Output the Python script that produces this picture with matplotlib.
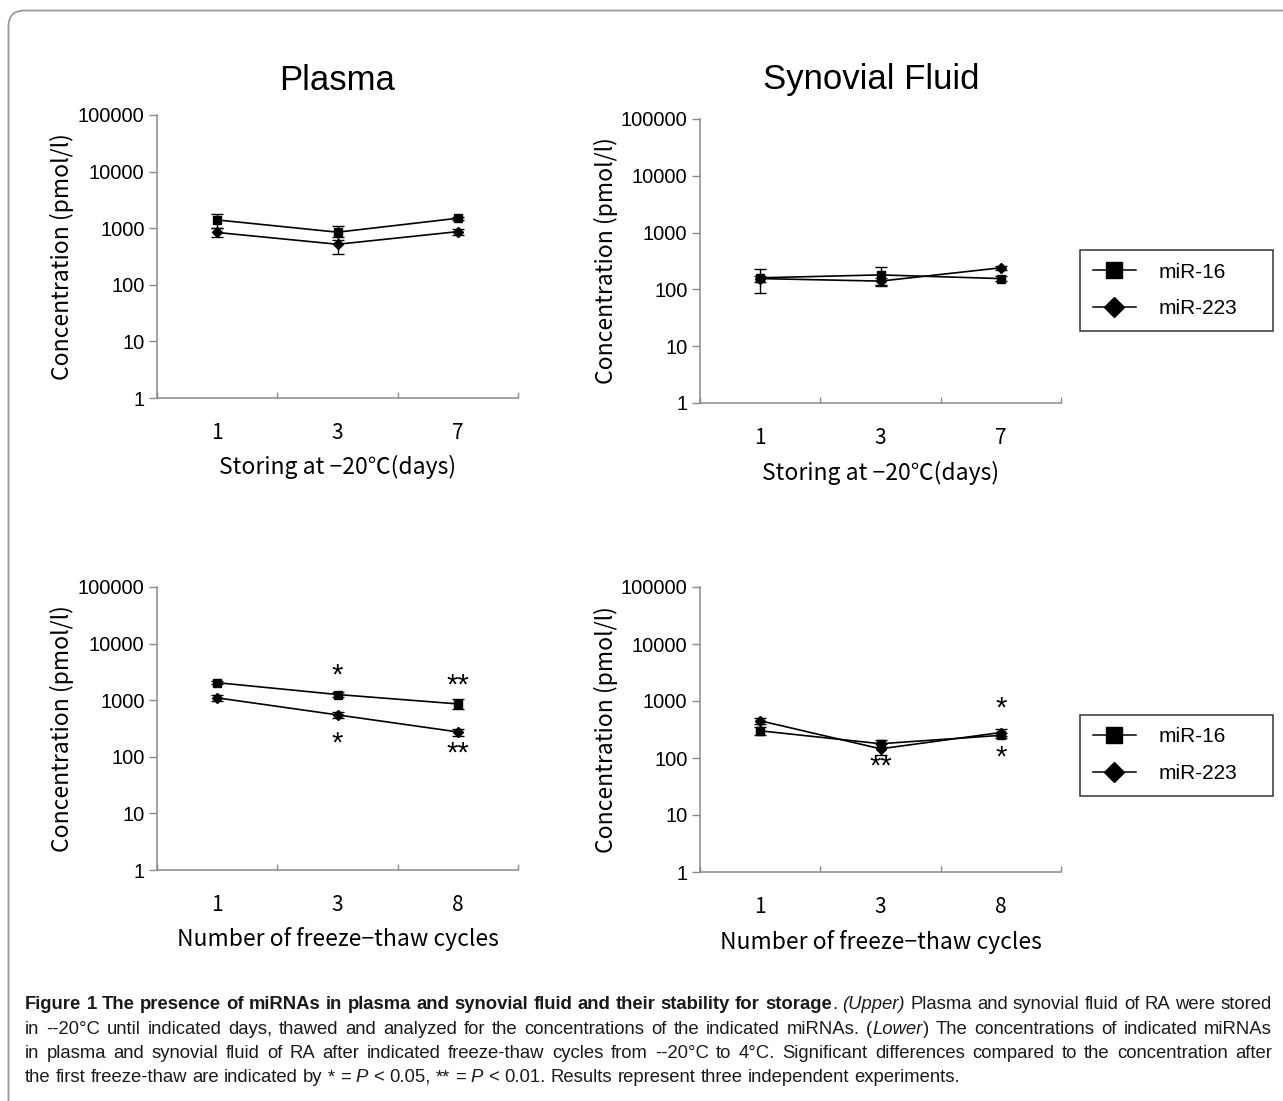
import matplotlib
matplotlib.use('Agg')
import matplotlib.pyplot as plt
from matplotlib.patches import FancyBboxPatch
from matplotlib.lines import Line2D
from matplotlib.ticker import NullLocator
from matplotlib.font_manager import FontProperties

W, H = 1283, 1101
DPI = 100

plt.rcParams['font.family'] = ['Liberation Sans', 'DejaVu Sans']
JP = ['Noto Sans CJK JP', 'DejaVu Sans']
CAP = ['Liberation Sans Narrow', 'Liberation Sans', 'DejaVu Sans']
GRAY = '#8a8a8a'

# ---------------- data ----------------
storage_days = ['1', '3', '7']
freeze_cycles = ['1', '3', '8']
series_labels = ['miR-16', 'miR-223']
y_ticks = [1, 10, 100, 1000, 10000, 100000]

plasma_storage_mir16 = [1400, 850, 1500]
plasma_storage_mir16_err = [380, 230, 100]
plasma_storage_mir223 = [840, 520, 870]
plasma_storage_mir223_err = [150, 175, 110]

sf_storage_mir16 = [160, 180, 155]
sf_storage_mir16_err = [72, 65, 15]
sf_storage_mir223 = [155, 140, 240]
sf_storage_mir223_err = [20, 20, 20]

plasma_ft_mir16 = [2040, 1260, 860]
plasma_ft_mir16_err = [100, 120, 170]
plasma_ft_mir223 = [1100, 550, 275]
plasma_ft_mir223_err = [120, 70, 40]

sf_ft_mir16 = [300, 178, 250]
sf_ft_mir16_err = [50, 25, 30]
sf_ft_mir223 = [450, 145, 280]
sf_ft_mir223_err = [50, 33, 40]

# significance marks: (category index, concentration at mark centre, text)
plasma_ft_sig = [(1, 3160, '*'), (1, 200, '*'), (2, 2100, '**'), (2, 132, '**')]
sf_ft_sig = [(2, 850, '*'), (2, 117, '*'), (1, 82, '**')]

titles = ['Plasma', 'Synovial Fluid']
ylabel = 'Concentration (pmol/l)'
xlabel_storage = 'Storing at \u221220\u2103(days)'
xlabel_ft = 'Number of freeze\u2212thaw cycles'

caption_lines = [
    [('Figure 1 The presence of miRNAs in plasma and synovial fluid and their stability for storage', 'b'),
     ('. ', 'n'), ('(Upper)', 'i'),
     (' Plasma and synovial fluid of RA were stored', 'n')],
    [('in --20\u00b0C until indicated days, thawed and analyzed for the concentrations of the indicated miRNAs. (', 'n'),
     ('Lower', 'i'), (') The concentrations of indicated miRNAs', 'n')],
    [('in plasma and synovial fluid of RA after indicated freeze-thaw cycles from --20\u00b0C to 4\u00b0C. '
      'Significant differences compared to the concentration after', 'n')],
    [('the first freeze-thaw are indicated by * = ', 'n'), ('P', 'i'), (' < 0.05, ** = ', 'n'), ('P', 'i'),
     (' < 0.01. Results represent three independent experiments.', 'n')],
]

# ---------------- figure ----------------
fig = plt.figure(figsize=(W / DPI, H / DPI), dpi=DPI)

# rounded frame
bg = fig.add_axes([0, 0, 1, 1], zorder=-10)
bg.set_xlim(0, W)
bg.set_ylim(H, 0)
bg.axis('off')
bg.add_patch(FancyBboxPatch((8.5, 10.5), W + 40, H + 40,
                            boxstyle='round,pad=0,rounding_size=16',
                            fc='white', ec='#9a9a9a', lw=1.3))


def px_rect(l, t, r, b):
    return [l / W, 1 - b / H, (r - l) / W, (b - t) / H]


def setup(ax, cats, xlabel, ylab_x):
    ax.set_yscale('log')
    ax.set_ylim(1, 1e5)
    ax.set_xlim(0, 3)
    ax.set_yticks(y_ticks)
    ax.set_yticklabels([str(v) for v in y_ticks])
    ax.yaxis.set_minor_locator(NullLocator())
    ax.set_xticks([0, 1, 2, 3])
    ax.set_xticklabels([])
    ax.set_xticks([0.5, 1.5, 2.5], minor=True)
    ax.set_xticklabels(cats, minor=True, fontfamily=JP, fontsize=15)
    ax.tick_params(axis='x', which='major', direction='in', length=4, color=GRAY, width=1)
    ax.tick_params(axis='x', which='minor', length=0, pad=17.5)
    ax.tick_params(axis='y', which='major', direction='out', length=6, color=GRAY,
                   width=1, pad=3, labelsize=14.5)
    for s in ['top', 'right']:
        ax.spines[s].set_visible(False)
    for s in ['left', 'bottom']:
        ax.spines[s].set_color(GRAY)
        ax.spines[s].set_linewidth(1.1)
    ax.set_ylabel(ylabel, fontfamily=JP, fontsize=16.5)
    ax.yaxis.set_label_coords(ylab_x, 0.5)
    ax.yaxis.label.set_va('center')
    ax.set_xlabel(xlabel, fontfamily=JP, fontsize=16.5)
    ax.xaxis.set_label_coords(0.5, -0.245)
    ax.xaxis.label.set_va('center')
    ax.patch.set_alpha(0)


def plot_pair(ax, m16, e16, m223, e223):
    x = [0.5, 1.5, 2.5]
    kw = dict(color='black', lw=1.2, elinewidth=1.0, capsize=4, capthick=1.0)
    ax.errorbar(x, m16, yerr=e16, fmt='-s', ms=5.5, **kw)
    ax.errorbar(x, m223, yerr=e223, fmt='-D', ms=5, **kw)


def sig_marks(ax, marks):
    for i, y, s in marks:
        ax.annotate(s, xy=(i + 0.5, y), xytext=(0, -8.5), textcoords='offset points',
                    ha='center', va='baseline', fontsize=21)


ax_tl = fig.add_axes(px_rect(157, 115, 518, 398))
setup(ax_tl, storage_days, xlabel_storage, -0.262)
plot_pair(ax_tl, plasma_storage_mir16, plasma_storage_mir16_err,
          plasma_storage_mir223, plasma_storage_mir223_err)

ax_tr = fig.add_axes(px_rect(700, 119, 1061, 403))
setup(ax_tr, storage_days, xlabel_storage, -0.26)
plot_pair(ax_tr, sf_storage_mir16, sf_storage_mir16_err,
          sf_storage_mir223, sf_storage_mir223_err)

ax_bl = fig.add_axes(px_rect(157, 587, 518, 870))
setup(ax_bl, freeze_cycles, xlabel_ft, -0.262)
plot_pair(ax_bl, plasma_ft_mir16, plasma_ft_mir16_err,
          plasma_ft_mir223, plasma_ft_mir223_err)
sig_marks(ax_bl, plasma_ft_sig)

ax_br = fig.add_axes(px_rect(700, 587, 1061, 872))
setup(ax_br, freeze_cycles, xlabel_ft, -0.26)
plot_pair(ax_br, sf_ft_mir16, sf_ft_mir16_err,
          sf_ft_mir223, sf_ft_mir223_err)
sig_marks(ax_br, sf_ft_sig)

# titles
fig.text(337 / W, 1 - 80 / H, titles[0], ha='center', va='center', fontsize=25)
fig.text(871 / W, 1 - 80 / H, titles[1], ha='center', va='center', fontsize=25)

# legends
handles = [Line2D([], [], color='black', lw=1.1, marker='s', ms=11),
           Line2D([], [], color='black', lw=1.1, marker='D', ms=10)]
for top, bot in [(250, 323), (715, 790)]:
    leg = fig.legend(handles, series_labels, loc='upper left',
                     bbox_to_anchor=(1080 / W, 1 - bot / H, 193 / W, (bot - top) / H),
                     mode='expand', borderaxespad=0, fontsize=15, frameon=True,
                     fancybox=False, edgecolor='black', handlelength=2.1,
                     handletextpad=1.05, labelspacing=0.85, borderpad=0.6)
    leg.get_frame().set_linewidth(1.1)

# caption
renderer = fig.canvas.get_renderer()


def prop(st, size):
    return FontProperties(family=CAP, size=size,
                          weight='bold' if st == 'b' else 'normal',
                          style='italic' if st == 'i' else 'normal')


def tokenize(segments):
    chars = []
    for text, st in segments:
        for c in text:
            chars.append((c, st))
    words, cur = [], []
    for c, st in chars:
        if c == ' ':
            if cur:
                words.append(cur)
                cur = []
        else:
            cur.append((c, st))
    if cur:
        words.append(cur)
    out = []
    for w in words:
        runs = []
        for c, st in w:
            if runs and runs[-1][1] == st:
                runs[-1][0] += c
            else:
                runs.append([c, st])
        out.append(runs)
    return out


def run_width(text, st, size):
    w, h, d = renderer.get_text_width_height_descent(text, prop(st, size), ismath=False)
    return w


def word_width(runs, size):
    return sum(run_width(t, st, size) for t, st in runs)


def space_width(size):
    return run_width('x x', 'n', size) - run_width('xx', 'n', size)


tok_lines = [tokenize(l) for l in caption_lines]
base = 10.0
nat = []
for tl in tok_lines[:3]:
    nat.append(sum(word_width(w, base) for w in tl) + space_width(base) * (len(tl) - 1))
target = 1272 - 25
size = base * target / max(nat)

line_y = [1009, 1033.5, 1058, 1082]
for li, tl in enumerate(tok_lines):
    widths = [word_width(w, size) for w in tl]
    if li < 3:
        gap = (target - sum(widths)) / (len(tl) - 1)
    else:
        gap = space_width(size)
    x = 25
    for w, ww in zip(tl, widths):
        xx = x
        for t, st in w:
            fig.text(xx / W, 1 - line_y[li] / H, t, fontproperties=prop(st, size),
                     ha='left', va='baseline', color='#1a1a1a')
            xx += run_width(t, st, size)
        x += ww + gap

fig.savefig('out.png', dpi=DPI)
